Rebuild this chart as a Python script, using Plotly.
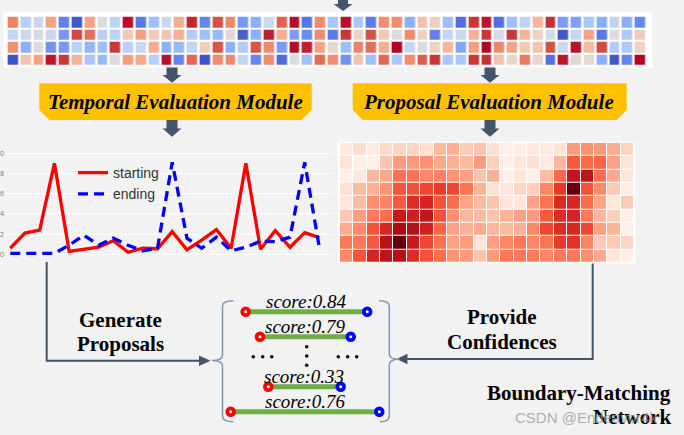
import plotly.graph_objects as go

W, H = 684, 435

# ---------------- data ----------------
# input feature sequence (4 channels x 50 snippets), diverging values in [-1, 1]
feat_row1 = [0.6, -0.35, -0.2, 0.45, -0.75, -0.95, 0.45, 0.0, -0.3, 0.97, -0.8, -0.45, -0.2, 0.4, 0.9, -0.72, 0.75,
             0.58, -0.62, -0.5, -0.18, 0.68, 0.98, -0.82, 0.57, -0.42, 0.97, -0.42, -0.78, 0.55, 0.55, -0.5, 0.3, 0.18,
             -0.45, -0.85, 0.85, 0.95, -0.85, -0.45, -0.3, 0.35, 0.87, -0.6, -0.58, -0.42, -0.52, -0.3, -0.5, -0.7]
feat_row2 = [-0.25, -0.2, -0.12, -0.22, -0.62, 0.78, 0.65, -0.35, -0.32, 0.22, 0.47, 0.2, 0.27, 0.4, -0.38, -0.45, -0.47,
             0.05, -0.92, -0.5, 0.92, 0.4, -0.6, -0.68, 0.57, -0.78, 0.85, 0.12, 0.75, 0.23, -0.02, 0.57, 0.15, -0.75,
             -0.25, -0.18, 0.38, 0.85, -0.1, 0.85, 0.37, 0.15, -0.1, -0.95, -0.25, 0.45, -0.8, 0.0, -0.4, 0.22]
feat_row3 = [0.55, -0.5, 0.0, -0.65, -0.62, -0.32, -0.48, -0.45, 0.85, -0.33, -0.2, 0.4, -0.5, -0.47, -0.27, 0.18, 0.73,
             -0.5, -0.38, 0.73, 0.57, -0.6, 0.98, 0.92, 0.45, 0.07, -0.45, 0.6, 0.65, 0.4, 1.0, -0.22, -0.05, 0.15,
             0.35, -0.55, 0.48, 1.0, 0.58, 0.45, 0.22, 0.27, 0.75, -0.18, 0.96, 0.33, 0.78, -0.38, -0.4, 0.16]
feat_row4 = [-0.97, 0.27, 0.45, 0.95, 0.85, 0.37, -0.42, -0.47, 0.01, 0.48, 0.42, -0.35, 0.97, -0.72, 0.67, -0.97, 0.56,
             0.58, -0.25, -0.7, 0.57, -0.88, 0.0, -0.45, 0.66, 0.55, -0.65, 0.28, -0.45, 0.67, -0.42, 0.55, 0.7, 0.85,
             -0.42, -0.42, 0.85, 0.87, 0.27, 0.1, 0.62, 0.08, -0.85, 0.95, 0.07, 0.06, -0.5, -0.95, -0.72, 1.0]

# temporal evaluation module: boundary probabilities per snippet
t_index = list(range(22))
starting_prob = [0.06, 0.21, 0.24, 0.90, 0.03, 0.05, 0.07, 0.135, 0.02, 0.06, 0.055,
                 0.225, 0.045, 0.14, 0.245, 0.06, 0.90, 0.05, 0.235, 0.07, 0.215, 0.165]
ending_prob = [0.01, 0.01, 0.01, 0.01, 0.09, 0.19, 0.09, 0.16, 0.09, 0.035, 0.06,
               0.91, 0.16, 0.06, 0.17, 0.035, 0.07, 0.13, 0.125, 0.17, 0.91, 0.06]
prob_ticks = [0.0, 0.2, 0.4, 0.6, 0.8, 1.0]
prob_ticktext = ["0.0", "0.2", "0.4", "0.6", "0.8", "1.0"]

# proposal evaluation module: boundary-matching confidence map (9 x 22)
bm_map = [
    [0.08, 0.15, 0.07, 0.16, 0.18, 0.18, 0.14, 0.28, 0.32, 0.21, 0.24, 0.14, 0.04, 0.04, 0.09, 0.07, 0.12, 0.38, 0.42, 0.39, 0.33, 0.19],
    [0.11, 0.04, 0.03, 0.24, 0.38, 0.39, 0.42, 0.34, 0.31, 0.28, 0.38, 0.20, 0.04, 0.10, 0.13, 0.07, 0.29, 0.60, 0.55, 0.57, 0.36, 0.11],
    [0.03, 0.08, 0.29, 0.34, 0.52, 0.52, 0.45, 0.46, 0.41, 0.37, 0.24, 0.31, 0.03, 0.11, 0.04, 0.27, 0.55, 0.85, 0.86, 0.54, 0.33, 0.10],
    [0.14, 0.27, 0.31, 0.41, 0.61, 0.63, 0.66, 0.70, 0.66, 0.52, 0.30, 0.13, 0.10, 0.18, 0.20, 0.45, 0.70, 1.00, 0.62, 0.44, 0.22, 0.05],
    [0.10, 0.27, 0.43, 0.46, 0.60, 0.75, 0.78, 0.62, 0.54, 0.35, 0.28, 0.24, 0.10, 0.09, 0.36, 0.52, 0.76, 0.77, 0.54, 0.35, 0.10, 0.22],
    [0.23, 0.37, 0.50, 0.54, 0.84, 0.80, 0.84, 0.62, 0.42, 0.29, 0.28, 0.25, 0.30, 0.36, 0.38, 0.60, 0.75, 0.78, 0.49, 0.29, 0.20, 0.04],
    [0.33, 0.44, 0.62, 0.77, 0.93, 0.90, 0.80, 0.57, 0.36, 0.31, 0.33, 0.29, 0.27, 0.31, 0.45, 0.66, 0.75, 0.77, 0.66, 0.36, 0.30, 0.03],
    [0.50, 0.50, 0.60, 0.88, 1.00, 0.82, 0.66, 0.53, 0.36, 0.38, 0.11, 0.37, 0.45, 0.50, 0.45, 0.51, 0.70, 0.72, 0.46, 0.21, 0.22, 0.18],
    [0.44, 0.61, 0.78, 0.86, 0.89, 0.75, 0.62, 0.54, 0.41, 0.38, 0.24, 0.38, 0.50, 0.50, 0.49, 0.45, 0.50, 0.50, 0.42, 0.33, 0.10, 0.04],
]

# generated proposals (start / end in temporal units) and their scores
proposal_start = [15.1, 23.5, 28.4, 6.3]
proposal_end = [86.6, 76.9, 71.0, 93.7]
proposal_row = [0, 1, 3, 4]
proposal_score = [0.84, 0.79, 0.33, 0.76]

# ---------------- styling helpers ----------------
def dom_x(a, b):
    return [a / W, b / W]


def dom_y(top, bottom):
    return [1 - bottom / H, 1 - top / H]


coolwarm = [[0.0, '#3b4cc0'], [0.075, '#5470de'], [0.15, '#6788ee'], [0.25, '#8db0fe'], [0.29, '#aac7fd'],
            [0.35, '#bfd3f6'], [0.4, '#cad8ef'], [0.5, '#dddcdc'], [0.575, '#edd2c3'], [0.65, '#f5c0a7'],
            [0.725, '#f6a385'], [0.79, '#ef886b'], [0.85, '#dc5d4a'], [0.925, '#c83836'], [1.0, '#b40426']]
reds = [[0.0, '#fff5f0'], [0.1375, '#fee0d2'], [0.275, '#fcbba1'], [0.4125, '#fc9272'], [0.55, '#fb6a4a'],
        [0.6875, '#ef3b2c'], [0.825, '#cb181d'], [0.93, '#a50f15'], [1.0, '#67000d']]

SERIF = "Liberation Serif"
ARROW = '#44546a'
BRACE = '#8497b0'

fig = go.Figure()

# canvas trace (pixel space)
fig.add_trace(go.Scatter(x=[], y=[], xaxis='x', yaxis='y', showlegend=False))

# feature sequence grid
fig.add_trace(go.Heatmap(z=[feat_row1, feat_row2, feat_row3, feat_row4], colorscale=coolwarm, zmin=-1, zmax=1,
                         xgap=2.5, ygap=2, showscale=False, hoverinfo='skip', xaxis='x2', yaxis='y2'))

# boundary probability curves
fig.add_trace(go.Scatter(x=t_index, y=starting_prob, mode='lines', name='starting',
                         line=dict(color='#ff0000', width=3.3), xaxis='x3', yaxis='y3'))
fig.add_trace(go.Scatter(x=t_index, y=ending_prob, mode='lines', name='ending',
                         line=dict(color='#0000ff', width=3.3, dash='10px,6px'), xaxis='x3', yaxis='y3'))

# BM confidence map
fig.add_trace(go.Heatmap(z=bm_map, colorscale=reds, zmin=0, zmax=1, xgap=1, ygap=1, showscale=False,
                         hoverinfo='skip', xaxis='x4', yaxis='y4'))

# proposals
for s, e, r in zip(proposal_start, proposal_end, proposal_row):
    fig.add_trace(go.Scatter(x=[s, e], y=[r, r], mode='lines', line=dict(color='#70ad47', width=5),
                             showlegend=False, hoverinfo='skip', xaxis='x5', yaxis='y5'))
fig.add_trace(go.Scatter(x=proposal_start, y=proposal_row, mode='markers', showlegend=False, hoverinfo='skip',
                         marker=dict(color='#ff0000', size=10.5, line=dict(width=0)), xaxis='x5', yaxis='y5'))
fig.add_trace(go.Scatter(x=proposal_end, y=proposal_row, mode='markers', showlegend=False, hoverinfo='skip',
                         marker=dict(color='#0000ff', size=10.5, line=dict(width=0)), xaxis='x5', yaxis='y5'))
fig.add_trace(go.Scatter(x=proposal_start + proposal_end, y=proposal_row + proposal_row, mode='markers',
                         showlegend=False, hoverinfo='skip', marker=dict(color='white', size=3, line=dict(width=0)),
                         xaxis='x5', yaxis='y5'))

# ---------------- shapes ----------------
shapes = []


def rect(x0, y0, x1, y1, fill, layer='below'):
    shapes.append(dict(type='rect', xref='x', yref='y', x0=x0, y0=y0, x1=x1, y1=y1, fillcolor=fill,
                       line=dict(width=0), layer=layer))


def path(d, fill=None, color=None, width=0, layer='above'):
    s = dict(type='path', xref='x', yref='y', path=d, layer=layer)
    if fill:
        s['fillcolor'] = fill
    s['line'] = dict(color=color or 'rgba(0,0,0,0)', width=width)
    shapes.append(s)


def down_arrow(cx, y0, yh, ytip, shaft=10, head=19):
    a, b = shaft / 2, head / 2
    path(f"M{cx - a},{y0} L{cx + a},{y0} L{cx + a},{yh} L{cx + b},{yh} L{cx},{ytip} "
         f"L{cx - b},{yh} L{cx - a},{yh} Z", fill=ARROW)


def banner(x0, x1, y0, y1, c=10):
    path(f"M{x0},{y0} L{x1},{y0} L{x1},{y1 - c} L{x1 - c},{y1} L{x0 + c},{y1} L{x0},{y1 - c} Z",
         fill='#ffc000', layer='below')


rect(3.3, 11.7, 652, 67.5, 'white')
rect(338, 141.7, 635.5, 263.5, 'white')
banner(39.3, 311.7, 83.3, 120)
banner(352.7, 626.7, 83.3, 120)

down_arrow(343, 0, 4, 11)
down_arrow(172, 67.5, 75, 82.7, shaft=11)
down_arrow(490, 67.5, 75, 82.7, shaft=11)
down_arrow(172, 120, 128.5, 136.7, shaft=11)
down_arrow(490, 120, 128.5, 136.7, shaft=11)

# connectors
path("M46.7,262 L46.7,360.7 L201,360.7", color=ARROW, width=2)
path("M199,355.5 L210.5,360.7 L199,366 Z", fill=ARROW)
path("M592.7,263.5 L592.7,359 L406,359", color=ARROW, width=2)
path("M407.5,353.8 L396.5,359 L407.5,364.2 Z", fill=ARROW)

# braces
path("M233.3,300.7 Q222.5,300.7 222.5,306 L222.5,355 Q222.5,360.5 212,360.5 Q222.5,360.5 222.5,366 "
     "L222.5,416 Q222.5,421.7 233.3,421.7", color=BRACE, width=1.5)
path("M379,300.7 Q389.3,300.7 389.3,306 L389.3,354 Q389.3,359.3 399.5,359.3 Q389.3,359.3 389.3,365 "
     "L389.3,416 Q389.3,421.7 380,421.7", color=BRACE, width=1.5)

# ellipsis dots
for cx, cy in [(253.3, 356.7), (262.7, 356.7), (271.7, 356.7), (338.3, 356.7), (347.7, 356.7), (356.7, 356.7),
               (306.7, 346.7), (306.7, 356), (306.7, 365.3)]:
    shapes.append(dict(type='circle', xref='x', yref='y', x0=cx - 1.8, x1=cx + 1.8, y0=cy - 1.8, y1=cy + 1.8,
                       fillcolor='black', line=dict(width=0), layer='above'))

# ---------------- annotations ----------------
ann = []


def text(x, y, t, size=21, xanchor='center', color='black', family=SERIF, xref='x', yref='y', yshift=0):
    ann.append(dict(x=x, y=y, xref=xref, yref=yref, text=t, showarrow=False, xanchor=xanchor, yanchor='middle',
                    yshift=yshift, font=dict(family=family, size=size, color=color)))


text(175.3, 101.5, "<b><i>Temporal Evaluation Module</i></b>")
text(488.5, 101.5, "<b><i>Proposal Evaluation Module</i></b>")
text(120, 319.5, "<b>Generate</b>")
text(120, 343.5, "<b>Proposals</b>")
text(501.5, 316.5, "<b>Provide</b>")
text(501.5, 341.5, "<b>Confidences</b>")
text(673, 393, "<b>Boundary-Matching</b>", xanchor='right')
text(673, 417, "<b>Network</b>", xanchor='right')
text(513, 417, "CSDN @Endeavor4k", size=15, xanchor='left', color='rgba(150,150,150,0.75)',
     family='Liberation Sans')

for s, e, r, sc in zip(proposal_start, proposal_end, proposal_row, proposal_score):
    text((s + e) / 2, r, f"<i>score:{sc:.2f}</i>", size=19, xref='x5', yref='y5', yshift=10)

# ---------------- layout ----------------
hidden = dict(visible=False, fixedrange=True, automargin=False)
fig.update_layout(
    width=W, height=H, autosize=False,
    margin=dict(l=0, r=0, t=0, b=0, pad=0),
    paper_bgcolor='#f2f2f2', plot_bgcolor='rgba(0,0,0,0)',
    xaxis=dict(domain=[0, 1], range=[0, W], **hidden),
    yaxis=dict(domain=[0, 1], range=[H, 0], **hidden),
    xaxis2=dict(domain=dom_x(6.6, 646.6), range=[-0.5, 49.5], anchor='y2', **hidden),
    yaxis2=dict(domain=dom_y(15.75, 65.75), range=[3.5, -0.5], anchor='x2', **hidden),
    xaxis3=dict(domain=dom_x(5, 333), range=[-0.357, 21.92], anchor='y3', **hidden),
    yaxis3=dict(domain=dom_y(145, 262), range=[-0.076, 1.082], anchor='x3', showgrid=True, gridcolor='white',
                gridwidth=1, zeroline=False, showline=False, ticks='', tickvals=prob_ticks,
                ticktext=prob_ticktext, tickfont=dict(size=7, color='#777'), fixedrange=True, automargin=False),
    xaxis4=dict(domain=dom_x(340, 634), range=[-0.5, 21.5], anchor='y4', **hidden),
    yaxis4=dict(domain=dom_y(142.7, 262.7), range=[8.5, -0.5], anchor='x4', **hidden),
    xaxis5=dict(domain=dom_x(220, 390), range=[0, 100], anchor='y5', **hidden),
    yaxis5=dict(domain=dom_y(300, 425), range=[4.532, -0.468], anchor='x5', **hidden),
    shapes=shapes,
    annotations=ann,
    showlegend=True,
    legend=dict(x=73 / W, y=1 - 157 / H, xanchor='left', yanchor='top', bgcolor='rgba(0,0,0,0)',
                font=dict(family='Liberation Sans', size=14, color='#333'), itemwidth=30, tracegroupgap=0),
)

fig.write_html("out.html", config={'displayModeBar': False},
               post_script="document.body.style.margin='0px';document.body.style.overflow='hidden';")
